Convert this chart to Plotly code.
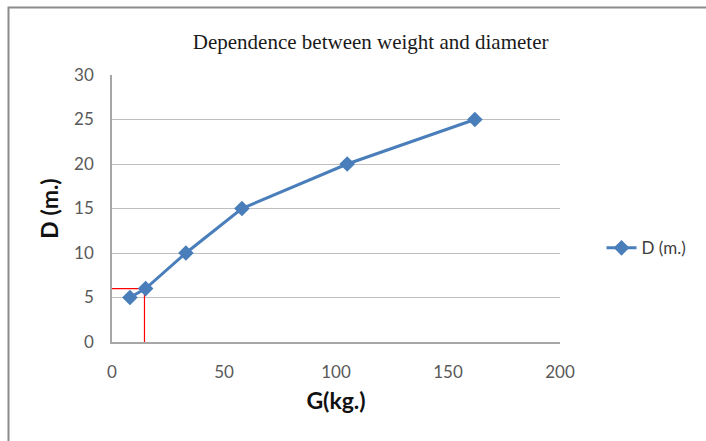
import plotly.graph_objects as go

# Weight (kg) vs diameter (m)
weight_kg = [8, 15, 33, 58, 105, 162]
diameter_m = [5, 6, 10, 15, 20, 25]

# Read-off guide for the 6 m point
guide_x = 14.5
guide_y = 6

x_ticks = [0, 50, 100, 150, 200]
y_ticks = [0, 5, 10, 15, 20, 25, 30]

BLUE = "#4A7EBB"
SANS = "Lato, 'Open Sans', sans-serif"
TICK_FONT = dict(family=SANS, size=17, color="#595959")

fig = go.Figure()

fig.add_trace(go.Scatter(
    x=[0, guide_x, guide_x], y=[guide_y, guide_y, 0],
    mode="lines", line=dict(color="#FF0000", width=1.2),
    showlegend=False, hoverinfo="skip",
))

fig.add_trace(go.Scatter(
    x=weight_kg, y=diameter_m, name="D (m.)",
    mode="lines+markers",
    line=dict(color=BLUE, width=3),
    marker=dict(symbol="diamond", size=12, color=BLUE),
    cliponaxis=False,
))

fig.update_layout(
    width=706, height=441,
    margin=dict(l=112, r=146, t=75, b=99),
    paper_bgcolor="white", plot_bgcolor="white",
    title=dict(
        text="Dependence between weight and diameter",
        font=dict(family="'Liberation Serif', 'Times New Roman', serif", size=21, color="#1a1a1a"),
        x=0.525, xanchor="center", y=0.905, yanchor="middle",
        xref="container", yref="container",
    ),
    xaxis=dict(
        range=[0, 200], tickvals=x_ticks, showgrid=False, zeroline=False,
        showline=True, linecolor="#A6A6A6", linewidth=1.5,
        tickfont=TICK_FONT, ticks="", ticklabelstandoff=14,
        title=dict(text="<b>G(kg.)</b>", font=dict(family=SANS, size=23, color="#111"), standoff=12),
    ),
    yaxis=dict(
        range=[0, 30], tickvals=y_ticks, showgrid=True, gridcolor="#BFBFBF", gridwidth=1.3,
        zeroline=False, showline=True, linecolor="#A6A6A6", linewidth=1.5,
        tickfont=TICK_FONT, ticks="", ticklabelstandoff=13,
        title=dict(text="<b>D (m.)</b>", font=dict(family=SANS, size=23, color="#111"), standoff=9),
    ),
    legend=dict(
        xref="container", yref="container", x=0.852, y=0.437,
        xanchor="left", yanchor="middle",
        font=dict(family=SANS, size=17, color="#404040"),
        bgcolor="rgba(0,0,0,0)",
    ),
    shapes=[dict(
        type="rect", xref="paper", yref="paper",
        x0=(8.5 - 112) / 448, x1=(720 - 112) / 448,
        y0=(342 - 460) / 267, y1=(342 - 7.5) / 267,
        line=dict(color="#8C8C8C", width=2), layer="below",
    )],
    showlegend=True,
)

fig.write_html("out.html")
